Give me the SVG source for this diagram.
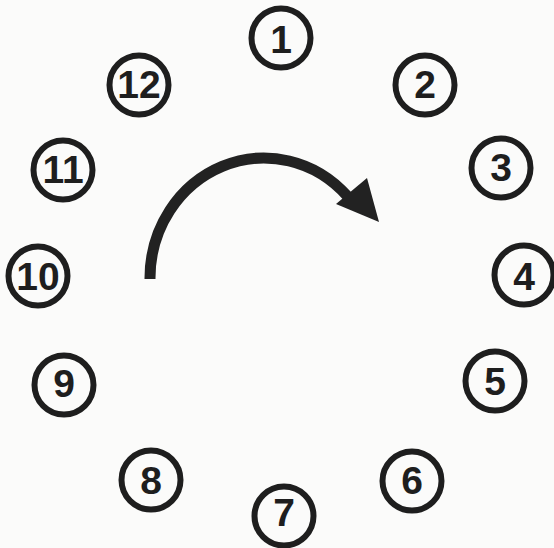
<svg xmlns="http://www.w3.org/2000/svg" width="554" height="548" viewBox="0 0 554 548">
<style>
.ring{fill:none;stroke:#1e1e1e;stroke-width:6}
.num{font-family:"Liberation Sans",Arial,sans-serif;font-weight:bold;font-size:39px;fill:#1e1e1e;text-anchor:middle;dominant-baseline:central}
.arc{fill:none;stroke:#222;stroke-width:11}
</style>
<rect width="554" height="548" fill="#fbfbfa"/>
<g id="n1"><circle class="ring" cx="281" cy="38" r="29.5"/><text class="num" x="281" y="39">1</text></g>
<g id="n2"><circle class="ring" cx="425" cy="85" r="29.5"/><text class="num" x="425" y="84">2</text></g>
<g id="n3"><circle class="ring" cx="501" cy="168" r="29.5"/><text class="num" x="501" y="167">3</text></g>
<g id="n4"><circle class="ring" cx="524" cy="275" r="29.5"/><text class="num" x="524" y="276">4</text></g>
<g id="n5"><circle class="ring" cx="495" cy="381" r="29.5"/><text class="num" x="495" y="381">5</text></g>
<g id="n6"><circle class="ring" cx="412" cy="481" r="29.5"/><text class="num" x="412" y="480">6</text></g>
<g id="n7"><circle class="ring" cx="284" cy="516" r="29.5"/><text class="num" x="284" y="512">7</text></g>
<g id="n8"><circle class="ring" cx="151" cy="480" r="29.5"/><text class="num" x="151" y="480">8</text></g>
<g id="n9"><circle class="ring" cx="64" cy="385" r="29.5"/><text class="num" x="64" y="383">9</text></g>
<g id="n10"><circle class="ring" cx="38" cy="276" r="29.5"/><text class="num" x="38" y="276">10</text></g>
<g id="n11"><circle class="ring" cx="63" cy="170" r="29.5"/><text class="num" x="63" y="169">11</text></g>
<g id="n12"><circle class="ring" cx="139" cy="85" r="29.5"/><text class="num" x="139" y="84">12</text></g>
<g id="connectors">
<path class="arc" d="M150,279 L150,278 A114,120 0 0 1 347.4,196.2"/>
<polygon points="379,222 367,178 336,204" fill="#222"/>
</g>
</svg>
